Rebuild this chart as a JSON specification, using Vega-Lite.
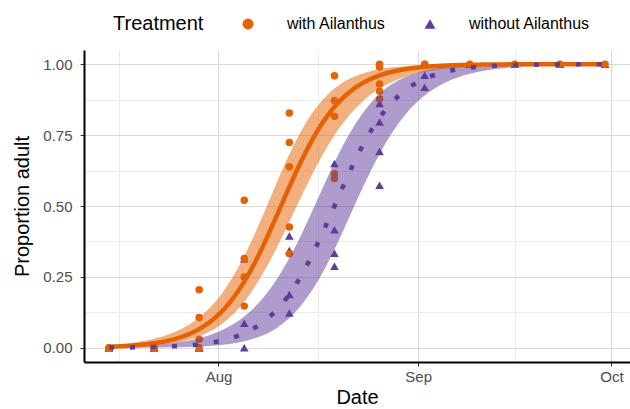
{
  "$schema": "https://vega.github.io/schema/vega-lite/v6.json",
  "autosize": {"type": "none"},
  "width": 546,
  "height": 312,
  "padding": {"left": 84, "top": 50, "right": 0, "bottom": 47},
  "background": "white",
  "config": {
    "font": "Liberation Sans",
    "view": {"stroke": null},
    "axis": {
      "domainColor": "black",
      "domainWidth": 2,
      "tickColor": "#333333",
      "tickSize": 4,
      "tickWidth": 1,
      "labelFont": "Liberation Sans",
      "labelFontSize": 15,
      "labelColor": "#4D4D4D",
      "titleFont": "Liberation Sans",
      "titleFontSize": 20,
      "titleFontWeight": "normal",
      "titleColor": "black",
      "gridWidth": 1
    },
    "legend": {
      "orient": "none",
      "direction": "horizontal",
      "titleOrient": "left",
      "titleFont": "Liberation Sans",
      "titleFontSize": 20,
      "titleFontWeight": "normal",
      "titleColor": "black",
      "titleAnchor": "middle",
      "titleBaseline": "middle",
      "titlePadding": 36,
      "labelFont": "Liberation Sans",
      "labelFontSize": 16,
      "labelColor": "black",
      "labelOffset": 31,
      "columnPadding": 36,
      "symbolSize": 120,
      "symbolOpacity": 1,
      "symbolStrokeWidth": 0,
      "padding": 0
    }
  },
  "datasets": {
    "pts": [
      {"date": "2019-07-15", "treatment": "without Ailanthus", "prop": 0},
      {"date": "2019-07-15", "treatment": "without Ailanthus", "prop": 0},
      {"date": "2019-07-22", "treatment": "without Ailanthus", "prop": 0},
      {"date": "2019-07-22", "treatment": "without Ailanthus", "prop": 0},
      {"date": "2019-07-29", "treatment": "without Ailanthus", "prop": 0},
      {"date": "2019-07-29", "treatment": "without Ailanthus", "prop": 0},
      {"date": "2019-08-05", "treatment": "without Ailanthus", "prop": 0.313},
      {"date": "2019-08-05", "treatment": "without Ailanthus", "prop": 0.087},
      {"date": "2019-08-05", "treatment": "without Ailanthus", "prop": 0},
      {"date": "2019-08-12", "treatment": "without Ailanthus", "prop": 0.394},
      {"date": "2019-08-12", "treatment": "without Ailanthus", "prop": 0.343},
      {"date": "2019-08-12", "treatment": "without Ailanthus", "prop": 0.188},
      {"date": "2019-08-12", "treatment": "without Ailanthus", "prop": 0.123},
      {"date": "2019-08-19", "treatment": "without Ailanthus", "prop": 0.65},
      {"date": "2019-08-19", "treatment": "without Ailanthus", "prop": 0.416},
      {"date": "2019-08-19", "treatment": "without Ailanthus", "prop": 0.333},
      {"date": "2019-08-19", "treatment": "without Ailanthus", "prop": 0.288},
      {"date": "2019-08-26", "treatment": "without Ailanthus", "prop": 0.861},
      {"date": "2019-08-26", "treatment": "without Ailanthus", "prop": 0.796},
      {"date": "2019-08-26", "treatment": "without Ailanthus", "prop": 0.692},
      {"date": "2019-08-26", "treatment": "without Ailanthus", "prop": 0.573},
      {"date": "2019-09-02", "treatment": "without Ailanthus", "prop": 1},
      {"date": "2019-09-02", "treatment": "without Ailanthus", "prop": 0.961},
      {"date": "2019-09-02", "treatment": "without Ailanthus", "prop": 0.919},
      {"date": "2019-09-09", "treatment": "without Ailanthus", "prop": 1},
      {"date": "2019-09-16", "treatment": "without Ailanthus", "prop": 1},
      {"date": "2019-09-23", "treatment": "without Ailanthus", "prop": 1},
      {"date": "2019-09-30", "treatment": "without Ailanthus", "prop": 1},
      {"date": "2019-07-15", "treatment": "with Ailanthus", "prop": 0},
      {"date": "2019-07-15", "treatment": "with Ailanthus", "prop": 0},
      {"date": "2019-07-22", "treatment": "with Ailanthus", "prop": 0},
      {"date": "2019-07-22", "treatment": "with Ailanthus", "prop": 0},
      {"date": "2019-07-29", "treatment": "with Ailanthus", "prop": 0.205},
      {"date": "2019-07-29", "treatment": "with Ailanthus", "prop": 0.107},
      {"date": "2019-07-29", "treatment": "with Ailanthus", "prop": 0.03},
      {"date": "2019-07-29", "treatment": "with Ailanthus", "prop": 0},
      {"date": "2019-08-05", "treatment": "with Ailanthus", "prop": 0.52},
      {"date": "2019-08-05", "treatment": "with Ailanthus", "prop": 0.315},
      {"date": "2019-08-05", "treatment": "with Ailanthus", "prop": 0.25},
      {"date": "2019-08-05", "treatment": "with Ailanthus", "prop": 0.147},
      {"date": "2019-08-12", "treatment": "with Ailanthus", "prop": 0.828},
      {"date": "2019-08-12", "treatment": "with Ailanthus", "prop": 0.724},
      {"date": "2019-08-12", "treatment": "with Ailanthus", "prop": 0.638},
      {"date": "2019-08-12", "treatment": "with Ailanthus", "prop": 0.426},
      {"date": "2019-08-12", "treatment": "with Ailanthus", "prop": 0.332},
      {"date": "2019-08-19", "treatment": "with Ailanthus", "prop": 0.959},
      {"date": "2019-08-19", "treatment": "with Ailanthus", "prop": 0.872},
      {"date": "2019-08-19", "treatment": "with Ailanthus", "prop": 0.816},
      {"date": "2019-08-19", "treatment": "with Ailanthus", "prop": 0.614},
      {"date": "2019-08-19", "treatment": "with Ailanthus", "prop": 0.597},
      {"date": "2019-08-26", "treatment": "with Ailanthus", "prop": 1},
      {"date": "2019-08-26", "treatment": "with Ailanthus", "prop": 0.99},
      {"date": "2019-08-26", "treatment": "with Ailanthus", "prop": 0.93},
      {"date": "2019-08-26", "treatment": "with Ailanthus", "prop": 0.905},
      {"date": "2019-08-26", "treatment": "with Ailanthus", "prop": 0.877},
      {"date": "2019-09-02", "treatment": "with Ailanthus", "prop": 1},
      {"date": "2019-09-02", "treatment": "with Ailanthus", "prop": 1},
      {"date": "2019-09-09", "treatment": "with Ailanthus", "prop": 1},
      {"date": "2019-09-16", "treatment": "with Ailanthus", "prop": 1},
      {"date": "2019-09-23", "treatment": "with Ailanthus", "prop": 1},
      {"date": "2019-09-30", "treatment": "with Ailanthus", "prop": 1}
    ],
    "curves": [
      {"date": "2019-07-15", "treatment": "with Ailanthus", "fit": 0.0038, "lo": 0.0016, "hi": 0.0092},
      {"date": "2019-07-19", "treatment": "with Ailanthus", "fit": 0.0088, "lo": 0.0041, "hi": 0.0187},
      {"date": "2019-07-23", "treatment": "with Ailanthus", "fit": 0.0199, "lo": 0.0104, "hi": 0.0378},
      {"date": "2019-07-25", "treatment": "with Ailanthus", "fit": 0.0299, "lo": 0.0165, "hi": 0.0537},
      {"date": "2019-07-27", "treatment": "with Ailanthus", "fit": 0.0447, "lo": 0.0259, "hi": 0.076},
      {"date": "2019-07-29", "treatment": "with Ailanthus", "fit": 0.0662, "lo": 0.0402, "hi": 0.1072},
      {"date": "2019-07-31", "treatment": "with Ailanthus", "fit": 0.0972, "lo": 0.0617, "hi": 0.1498},
      {"date": "2019-08-02", "treatment": "with Ailanthus", "fit": 0.1403, "lo": 0.0928, "hi": 0.2068},
      {"date": "2019-08-04", "treatment": "with Ailanthus", "fit": 0.1985, "lo": 0.1361, "hi": 0.2802},
      {"date": "2019-08-06", "treatment": "with Ailanthus", "fit": 0.2731, "lo": 0.1937, "hi": 0.37},
      {"date": "2019-08-08", "treatment": "with Ailanthus", "fit": 0.363, "lo": 0.266, "hi": 0.4725},
      {"date": "2019-08-10", "treatment": "with Ailanthus", "fit": 0.4636, "lo": 0.3511, "hi": 0.5798},
      {"date": "2019-08-12", "treatment": "with Ailanthus", "fit": 0.5673, "lo": 0.4447, "hi": 0.6822},
      {"date": "2019-08-14", "treatment": "with Ailanthus", "fit": 0.6654, "lo": 0.5403, "hi": 0.7709},
      {"date": "2019-08-16", "treatment": "with Ailanthus", "fit": 0.751, "lo": 0.6313, "hi": 0.8416},
      {"date": "2019-08-18", "treatment": "with Ailanthus", "fit": 0.8207, "lo": 0.7132, "hi": 0.8939},
      {"date": "2019-08-20", "treatment": "with Ailanthus", "fit": 0.8741, "lo": 0.782, "hi": 0.9307},
      {"date": "2019-08-22", "treatment": "with Ailanthus", "fit": 0.9132, "lo": 0.8378, "hi": 0.9555},
      {"date": "2019-08-24", "treatment": "with Ailanthus", "fit": 0.9411, "lo": 0.8812, "hi": 0.9717},
      {"date": "2019-08-26", "treatment": "with Ailanthus", "fit": 0.9603, "lo": 0.9139, "hi": 0.9822},
      {"date": "2019-08-28", "treatment": "with Ailanthus", "fit": 0.9735, "lo": 0.9382, "hi": 0.9889},
      {"date": "2019-08-30", "treatment": "with Ailanthus", "fit": 0.9824, "lo": 0.9559, "hi": 0.9931},
      {"date": "2019-09-01", "treatment": "with Ailanthus", "fit": 0.9883, "lo": 0.9687, "hi": 0.9957},
      {"date": "2019-09-03", "treatment": "with Ailanthus", "fit": 0.9923, "lo": 0.9778, "hi": 0.9973},
      {"date": "2019-09-05", "treatment": "with Ailanthus", "fit": 0.9949, "lo": 0.9843, "hi": 0.9983},
      {"date": "2019-09-09", "treatment": "with Ailanthus", "fit": 0.9978, "lo": 0.9922, "hi": 0.9994},
      {"date": "2019-09-13", "treatment": "with Ailanthus", "fit": 0.999, "lo": 0.9961, "hi": 0.9998},
      {"date": "2019-09-17", "treatment": "with Ailanthus", "fit": 0.9996, "lo": 0.9981, "hi": 0.9999},
      {"date": "2019-09-21", "treatment": "with Ailanthus", "fit": 0.9998, "lo": 0.999, "hi": 1},
      {"date": "2019-09-25", "treatment": "with Ailanthus", "fit": 0.9999, "lo": 0.9995, "hi": 1},
      {"date": "2019-09-30", "treatment": "with Ailanthus", "fit": 1, "lo": 0.9998, "hi": 1},
      {"date": "2019-07-15", "treatment": "without Ailanthus", "fit": 0.0007, "lo": 0.0002, "hi": 0.003},
      {"date": "2019-07-19", "treatment": "without Ailanthus", "fit": 0.0016, "lo": 0.0004, "hi": 0.0061},
      {"date": "2019-07-23", "treatment": "without Ailanthus", "fit": 0.0036, "lo": 0.0011, "hi": 0.0121},
      {"date": "2019-07-25", "treatment": "without Ailanthus", "fit": 0.0054, "lo": 0.0017, "hi": 0.0171},
      {"date": "2019-07-27", "treatment": "without Ailanthus", "fit": 0.0082, "lo": 0.0028, "hi": 0.0241},
      {"date": "2019-07-29", "treatment": "without Ailanthus", "fit": 0.0124, "lo": 0.0045, "hi": 0.0341},
      {"date": "2019-07-31", "treatment": "without Ailanthus", "fit": 0.0187, "lo": 0.0072, "hi": 0.048},
      {"date": "2019-08-02", "treatment": "without Ailanthus", "fit": 0.0281, "lo": 0.0115, "hi": 0.0673},
      {"date": "2019-08-04", "treatment": "without Ailanthus", "fit": 0.0421, "lo": 0.0183, "hi": 0.094},
      {"date": "2019-08-06", "treatment": "without Ailanthus", "fit": 0.0625, "lo": 0.0289, "hi": 0.1301},
      {"date": "2019-08-08", "treatment": "without Ailanthus", "fit": 0.0918, "lo": 0.045, "hi": 0.1781},
      {"date": "2019-08-10", "treatment": "without Ailanthus", "fit": 0.133, "lo": 0.0693, "hi": 0.24},
      {"date": "2019-08-12", "treatment": "without Ailanthus", "fit": 0.1887, "lo": 0.1047, "hi": 0.3164},
      {"date": "2019-08-14", "treatment": "without Ailanthus", "fit": 0.2608, "lo": 0.1541, "hi": 0.4061},
      {"date": "2019-08-16", "treatment": "without Ailanthus", "fit": 0.3487, "lo": 0.2196, "hi": 0.5045},
      {"date": "2019-08-18", "treatment": "without Ailanthus", "fit": 0.4481, "lo": 0.3012, "hi": 0.6047},
      {"date": "2019-08-20", "treatment": "without Ailanthus", "fit": 0.5519, "lo": 0.3953, "hi": 0.6988},
      {"date": "2019-08-22", "treatment": "without Ailanthus", "fit": 0.6513, "lo": 0.4955, "hi": 0.7804},
      {"date": "2019-08-24", "treatment": "without Ailanthus", "fit": 0.7392, "lo": 0.5939, "hi": 0.8459},
      {"date": "2019-08-26", "treatment": "without Ailanthus", "fit": 0.8113, "lo": 0.6836, "hi": 0.8953},
      {"date": "2019-08-28", "treatment": "without Ailanthus", "fit": 0.867, "lo": 0.76, "hi": 0.9307},
      {"date": "2019-08-30", "treatment": "without Ailanthus", "fit": 0.9082, "lo": 0.8219, "hi": 0.955},
      {"date": "2019-09-01", "treatment": "without Ailanthus", "fit": 0.9375, "lo": 0.8699, "hi": 0.9711},
      {"date": "2019-09-03", "treatment": "without Ailanthus", "fit": 0.9579, "lo": 0.906, "hi": 0.9817},
      {"date": "2019-09-05", "treatment": "without Ailanthus", "fit": 0.9719, "lo": 0.9327, "hi": 0.9885},
      {"date": "2019-09-09", "treatment": "without Ailanthus", "fit": 0.9876, "lo": 0.9659, "hi": 0.9955},
      {"date": "2019-09-13", "treatment": "without Ailanthus", "fit": 0.9946, "lo": 0.9829, "hi": 0.9983},
      {"date": "2019-09-17", "treatment": "without Ailanthus", "fit": 0.9976, "lo": 0.9915, "hi": 0.9993},
      {"date": "2019-09-21", "treatment": "without Ailanthus", "fit": 0.999, "lo": 0.9957, "hi": 0.9998},
      {"date": "2019-09-25", "treatment": "without Ailanthus", "fit": 0.9996, "lo": 0.9979, "hi": 0.9999},
      {"date": "2019-09-30", "treatment": "without Ailanthus", "fit": 0.9998, "lo": 0.9991, "hi": 1}
    ]
  },
  "encoding": {
    "x": {
      "field": "date",
      "type": "temporal",
      "scale": {
        "type": "utc",
        "domain": [
          {"year": 2019, "month": "jul", "date": 11, "hours": 3, "utc": true},
          {"year": 2019, "month": "oct", "date": 3, "hours": 21, "utc": true}
        ]
      },
      "axis": {
        "title": "Date",
        "values": [
          {"year": 2019, "month": "jul", "date": 16, "hours": 12, "utc": true},
          {"year": 2019, "month": "aug", "date": 1, "utc": true},
          {"year": 2019, "month": "aug", "date": 16, "hours": 12, "utc": true},
          {"year": 2019, "month": "sep", "date": 1, "utc": true},
          {"year": 2019, "month": "sep", "date": 16, "utc": true},
          {"year": 2019, "month": "oct", "date": 1, "utc": true}
        ],
        "labelExpr": "utcdate(datum.value) == 1 ? utcFormat(datum.value, '%b') : ''",
        "gridColor": {"condition": {"test": "utcdate(datum.value) != 1", "value": "#EBEBEB"}, "value": "#D9D9D9"},
        "tickOpacity": {"condition": {"test": "utcdate(datum.value) != 1", "value": 0}, "value": 1},
        "labelPadding": 3,
        "titlePadding": 3,
        "labelFlush": false,
        "labelOverlap": false
      }
    },
    "y": {
      "field": "prop",
      "type": "quantitative",
      "scale": {"domain": [-0.05, 1.05], "nice": false, "zero": false},
      "axis": {
        "title": "Proportion adult",
        "values": [0, 0.125, 0.25, 0.375, 0.5, 0.625, 0.75, 0.875, 1],
        "labelExpr": "(datum.value * 4) % 1 != 0 ? '' : format(datum.value, '.2f')",
        "gridColor": {"condition": {"test": "(datum.value * 4) % 1 != 0", "value": "#EBEBEB"}, "value": "#D9D9D9"},
        "tickOpacity": {"condition": {"test": "(datum.value * 4) % 1 != 0", "value": 0}, "value": 1},
        "labelPadding": 8,
        "titlePadding": 10,
        "labelOverlap": false
      }
    },
    "color": {
      "field": "treatment",
      "type": "nominal",
      "scale": {"domain": ["with Ailanthus", "without Ailanthus"], "range": ["#E66101", "#5E3C99"]},
      "legend": {
        "title": "Treatment",
        "orient": "none",
        "legendX": 29,
        "legendY": -34,
        "direction": "horizontal",
        "titleOrient": "left",
        "symbolSize": 120
      }
    }
  },
  "layer": [
    {
      "data": {"name": "pts"},
      "transform": [{"filter": "datum.treatment === 'without Ailanthus'"}],
      "mark": {"type": "point", "filled": true, "opacity": 1, "size": 75},
      "encoding": {
        "shape": {
          "field": "treatment",
          "type": "nominal",
          "scale": {"domain": ["with Ailanthus", "without Ailanthus"], "range": ["circle", "triangle-up"]},
          "legend": {"title": "Treatment", "orient": "none", "legendX": 29, "legendY": -34, "direction": "horizontal", "titleOrient": "left", "symbolSize": 120}
        }
      }
    },
    {
      "data": {"name": "pts"},
      "transform": [{"filter": "datum.treatment === 'with Ailanthus'"}],
      "mark": {"type": "point", "filled": true, "opacity": 1, "size": 56},
      "encoding": {
        "shape": {
          "field": "treatment",
          "type": "nominal",
          "legend": {"title": "Treatment", "orient": "none", "legendX": 29, "legendY": -34, "direction": "horizontal", "titleOrient": "left", "symbolSize": 120}
        }
      }
    },
    {
      "data": {"name": "curves"},
      "mark": {"type": "area", "opacity": 0.5, "interpolate": "monotone"},
      "encoding": {
        "y": {"field": "lo", "type": "quantitative"},
        "y2": {"field": "hi"}
      }
    },
    {
      "data": {"name": "curves"},
      "mark": {"type": "line", "strokeWidth": 4.5, "interpolate": "monotone"},
      "encoding": {
        "y": {"field": "fit", "type": "quantitative"},
        "strokeDash": {
          "field": "treatment",
          "type": "nominal",
          "scale": {"domain": ["with Ailanthus", "without Ailanthus"], "range": [[1, 0], [5, 16]]},
          "legend": null
        }
      }
    }
  ]
}
